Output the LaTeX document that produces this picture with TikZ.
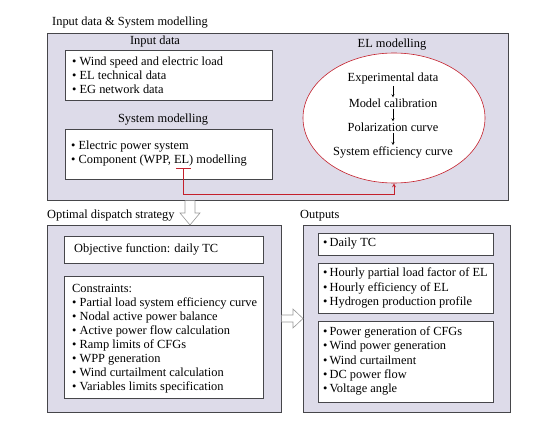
\documentclass[tikz,border=0pt]{standalone}
\usepackage{fontspec}
\setmainfont{Liberation Serif}
\usetikzlibrary{shapes.geometric}
\definecolor{PanelLilac}{RGB}{221,219,233}
\definecolor{EdgeGray}{RGB}{70,70,74}
\definecolor{LinkRed}{RGB}{196,32,44}

\begin{document}
\begin{tikzpicture}[x=1pt, y=-1pt, >=stealth,
    every node/.style={font=\fontsize{12.4}{14.1}\selectfont, inner sep=1pt},
    panel/.style={draw=EdgeGray, line width=1pt, fill=PanelLilac, anchor=north west, inner sep=0pt},
    listbox/.style={draw=EdgeGray, line width=1pt, fill=white, anchor=north west, inner sep=0pt},
    items/.style={anchor=west, align=left},
    hollow/.style={draw=gray!80, line width=0.6pt, fill=white}]
  \useasboundingbox (0,0) rectangle (551,420);

  % top panel
  \node[panel, minimum width=461, minimum height=167] (toppanel) at (47,33) {};
  \node[anchor=west] (toptitle) at (51,23) {Input data \& System modelling};
  \node (inlabel) at (155,42) {Input data};
  \node[listbox, minimum width=207, minimum height=50] (inbox) at (65,50) {};
  \node[items] (inlist) at (71,75.5) {\textbullet\ Wind speed and electric load\\
    \textbullet\ EL technical data\\ \textbullet\ EG network data};
  \node (syslabel) at (163,120) {System modelling};
  \node[listbox, minimum width=207, minimum height=50] (sysbox) at (65,129) {};
  \node[items] (syslist) at (70,153.5) {\textbullet\ Electric power system\\
    \textbullet\ Component (WPP, EL) modelling};
  \coordinate (elmark) at (183,168);

  \node (ellabel) at (392,45) {EL modelling};
  \node[ellipse, draw=LinkRed, fill=white, line width=0.6pt,
        minimum width=182, minimum height=130] (elmod) at (394,118) {};
  \node (exp) at (393,79) {Experimental data};
  \node (cal) at (393,103) {Model calibration};
  \node (pol) at (393,127) {Polarization curve};
  \node (eff) at (393,152) {System efficiency curve};
  \draw[->] (exp) -- (cal);
  \draw[->] (cal) -- (pol);
  \draw[->] (pol) -- (eff);

  % EL link
  \draw[LinkRed, line width=0.8pt] (176,168) -- (191,168);
  \draw[LinkRed, line width=0.8pt, ->] (elmark) -- (183,194) -| (elmod.south);

  % dispatch panel
  \node[anchor=west] (opttitle) at (46,216) {Optimal dispatch strategy};
  \node[panel, minimum width=234, minimum height=187] (optpanel) at (47,225) {};
  \node[listbox, minimum width=199, minimum height=27] (objbox) at (64,236) {};
  \node[items] (objtext) at (73,249.5) {Objective function: daily TC};
  \node[listbox, minimum width=199, minimum height=122] (conbox) at (64,276) {};
  \node[items] (conlist) at (71,338.6) {Constraints:\\
    \textbullet\ Partial load system efficiency curve\\
    \textbullet\ Nodal active power balance\\
    \textbullet\ Active power flow calculation\\
    \textbullet\ Ramp limits of CFGs\\
    \textbullet\ WPP generation\\
    \textbullet\ Wind curtailment calculation\\
    \textbullet\ Variables limits specification};

  % outputs panel
  \node[anchor=west] (outtitle) at (299,216) {Outputs};
  \node[panel, minimum width=207, minimum height=187] (outpanel) at (303,225) {};
  \node[listbox, minimum width=175, minimum height=22] (tcbox) at (318,233) {};
  \node[items] (tclist) at (322,243.5) {\textbullet\,Daily TC};
  \node[listbox, minimum width=175, minimum height=50] (elbox) at (318,263) {};
  \node[items] (ellist) at (322,288) {\textbullet\,Hourly partial load factor of EL\\
    \textbullet\,Hourly efficiency of EL\\
    \textbullet\,Hydrogen production profile};
  \node[listbox, minimum width=175, minimum height=81] (genbox) at (318,321) {};
  \node[items] (genlist) at (322,361) {\textbullet\,Power generation of CFGs\\
    \textbullet\,Wind power generation\\
    \textbullet\,Wind curtailment\\
    \textbullet\,DC power flow\\
    \textbullet\,Voltage angle};

  % hollow arrows
  \draw[hollow] (185,200.5) -- (185,213) -- (180,213) -- (190,225) -- (200,213)
    -- (195,213) -- (195,200.5);
  \draw[hollow] (281.5,315) -- (293,315) -- (293,309) -- (303,318.5) -- (293,328)
    -- (293,322) -- (281.5,322);
\end{tikzpicture}
\end{document}
